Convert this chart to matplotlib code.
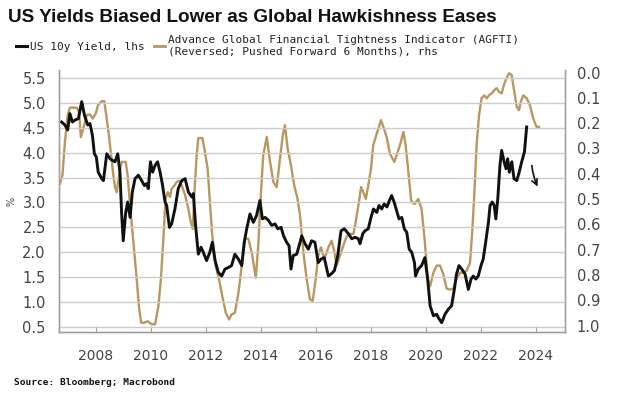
import matplotlib
matplotlib.use("Agg")
import matplotlib.pyplot as plt
from matplotlib.lines import Line2D

# ------------------------------
# DADOS
# ------------------------------
# US 10y yield, lhs (%)
yield_years = [
    2006.75, 2006.87, 2006.97, 2007.05, 2007.14, 2007.24, 2007.36, 2007.48, 2007.58, 2007.70,
    2007.78, 2007.87, 2007.94, 2008.01, 2008.08, 2008.21, 2008.27, 2008.39, 2008.51, 2008.59,
    2008.69, 2008.79, 2008.87, 2008.93, 2008.99, 2009.08, 2009.15, 2009.24, 2009.32, 2009.42,
    2009.54, 2009.66, 2009.76, 2009.84, 2009.90, 2009.98, 2010.06, 2010.15, 2010.24, 2010.33,
    2010.41, 2010.51, 2010.57, 2010.67, 2010.75, 2010.87, 2010.99, 2011.12, 2011.24, 2011.36,
    2011.48, 2011.54, 2011.62, 2011.72, 2011.82, 2011.90, 2012.02, 2012.14, 2012.23, 2012.33,
    2012.45, 2012.57, 2012.69, 2012.81, 2012.93, 2013.05, 2013.18, 2013.30, 2013.39, 2013.48,
    2013.60, 2013.72, 2013.84, 2013.96, 2014.05, 2014.15, 2014.27, 2014.39, 2014.51, 2014.61,
    2014.73, 2014.82, 2014.93, 2015.02, 2015.09, 2015.17, 2015.30, 2015.42, 2015.48, 2015.60,
    2015.72, 2015.84, 2015.96, 2016.08, 2016.18, 2016.30, 2016.45, 2016.55, 2016.67, 2016.79,
    2016.91, 2017.03, 2017.18, 2017.30, 2017.42, 2017.54, 2017.60, 2017.70, 2017.78, 2017.90,
    2018.00, 2018.09, 2018.21, 2018.29, 2018.39, 2018.48, 2018.58, 2018.67, 2018.75, 2018.84,
    2018.93, 2019.02, 2019.12, 2019.21, 2019.30, 2019.39, 2019.48, 2019.58, 2019.62, 2019.72,
    2019.84, 2019.96, 2020.06, 2020.15, 2020.27, 2020.39, 2020.45, 2020.57, 2020.69, 2020.81,
    2020.93, 2021.03, 2021.11, 2021.20, 2021.30, 2021.42, 2021.54, 2021.64, 2021.72, 2021.81,
    2021.90, 2022.00, 2022.08, 2022.17, 2022.27, 2022.33, 2022.41, 2022.48, 2022.54, 2022.61,
    2022.69, 2022.75, 2022.84, 2022.91, 2022.97, 2023.03, 2023.12, 2023.20, 2023.30, 2023.39,
    2023.48, 2023.58, 2023.66,
]
yield_values = [
    4.62, 4.56, 4.46, 4.79, 4.62, 4.66, 4.69, 5.03, 4.76, 4.56,
    4.59, 4.35, 3.98, 3.92, 3.61, 3.48, 3.44, 3.98, 3.88, 3.85,
    3.82, 3.98, 3.61, 2.80, 2.23, 2.80, 3.01, 2.70, 3.21, 3.48,
    3.55, 3.44, 3.34, 3.38, 3.28, 3.82, 3.61, 3.75, 3.82, 3.61,
    3.38, 3.01, 2.94, 2.50, 2.57, 2.87, 3.28, 3.44, 3.48, 3.21,
    3.11, 3.18, 2.54, 1.96, 2.10, 2.00, 1.83, 2.00, 2.20, 1.83,
    1.59, 1.52, 1.66, 1.69, 1.73, 1.96, 1.86, 1.73, 2.20, 2.47,
    2.77, 2.60, 2.74, 3.04, 2.67, 2.70, 2.64, 2.54, 2.57, 2.47,
    2.50, 2.33, 2.20, 2.13, 1.66, 1.93, 1.96, 2.20, 2.33, 2.17,
    2.06, 2.23, 2.20, 1.79, 1.86, 1.89, 1.52, 1.56, 1.63, 1.93,
    2.43, 2.47, 2.37, 2.27, 2.30, 2.27, 2.17, 2.37, 2.43, 2.47,
    2.70, 2.87, 2.80, 2.94, 2.87, 2.97, 2.91, 3.04, 3.14, 3.01,
    2.84, 2.67, 2.70, 2.47, 2.40, 2.06, 2.00, 1.79, 1.52, 1.66,
    1.73, 1.89, 1.46, 0.92, 0.72, 0.75, 0.68, 0.58, 0.75, 0.85,
    0.92, 1.25, 1.56, 1.73, 1.66, 1.56, 1.25, 1.46, 1.52, 1.46,
    1.52, 1.73, 1.86, 2.20, 2.60, 2.94, 3.01, 2.94, 2.67, 3.07,
    3.75, 4.05, 3.82, 3.68, 3.88, 3.61, 3.82, 3.48, 3.44, 3.61,
    3.82, 4.02, 4.52,
]

# AGFTI (reversed, pushed forward 6 months), rhs
agfti_years = [
    2006.69, 2006.78, 2006.87, 2006.97, 2007.05, 2007.18, 2007.30, 2007.38, 2007.45, 2007.54,
    2007.66, 2007.78, 2007.88, 2007.99, 2008.08, 2008.21, 2008.30, 2008.39, 2008.47, 2008.55,
    2008.63, 2008.69, 2008.75, 2008.84, 2008.93, 2009.08, 2009.15, 2009.24, 2009.36, 2009.48,
    2009.56, 2009.64, 2009.76, 2009.88, 2010.02, 2010.15, 2010.27, 2010.36, 2010.45, 2010.53,
    2010.61, 2010.69, 2010.75, 2010.85, 2010.93, 2011.02, 2011.12, 2011.24, 2011.36, 2011.45,
    2011.52, 2011.58, 2011.66, 2011.72, 2011.87, 2011.96, 2012.06, 2012.15, 2012.23, 2012.35,
    2012.47, 2012.59, 2012.72, 2012.84, 2012.93, 2013.05, 2013.18, 2013.30, 2013.42, 2013.54,
    2013.66, 2013.81, 2013.90, 2014.00, 2014.08, 2014.21, 2014.33, 2014.45, 2014.57, 2014.69,
    2014.79, 2014.87, 2014.97, 2015.09, 2015.21, 2015.33, 2015.42, 2015.54, 2015.66, 2015.78,
    2015.88, 2015.99, 2016.08, 2016.18, 2016.30, 2016.45, 2016.57, 2016.67, 2016.75, 2016.87,
    2016.99, 2017.12, 2017.24, 2017.36, 2017.44, 2017.54, 2017.64, 2017.72, 2017.81, 2017.90,
    2018.00, 2018.08, 2018.21, 2018.29, 2018.36, 2018.45, 2018.57, 2018.69, 2018.85, 2018.93,
    2019.05, 2019.18, 2019.26, 2019.36, 2019.46, 2019.58, 2019.72, 2019.84, 2019.96, 2020.06,
    2020.15, 2020.27, 2020.39, 2020.51, 2020.63, 2020.75, 2020.88, 2021.00, 2021.11, 2021.24,
    2021.36, 2021.48, 2021.60, 2021.68, 2021.76, 2021.84, 2021.93, 2022.02, 2022.12, 2022.21,
    2022.29, 2022.39, 2022.48, 2022.57, 2022.65, 2022.75, 2022.85, 2022.93, 2023.02, 2023.11,
    2023.21, 2023.30, 2023.38, 2023.45, 2023.54, 2023.66, 2023.78, 2023.90, 2024.02, 2024.11,
]
agfti_values = [
    0.439, 0.406, 0.274, 0.168, 0.139, 0.139, 0.139, 0.155, 0.255, 0.221,
    0.168, 0.166, 0.182, 0.162, 0.127, 0.113, 0.113, 0.182, 0.249, 0.327,
    0.406, 0.453, 0.473, 0.406, 0.353, 0.353, 0.406, 0.526, 0.671, 0.816,
    0.923, 0.989, 0.989, 0.983, 0.995, 0.995, 0.923, 0.816, 0.657, 0.500,
    0.473, 0.492, 0.459, 0.447, 0.433, 0.428, 0.447, 0.485, 0.540, 0.593,
    0.618, 0.473, 0.327, 0.259, 0.259, 0.314, 0.380, 0.526, 0.646, 0.763,
    0.816, 0.883, 0.950, 0.976, 0.956, 0.950, 0.870, 0.763, 0.657, 0.657,
    0.710, 0.811, 0.685, 0.473, 0.327, 0.255, 0.353, 0.433, 0.453, 0.341,
    0.249, 0.208, 0.302, 0.367, 0.447, 0.500, 0.565, 0.710, 0.816, 0.897,
    0.903, 0.816, 0.724, 0.691, 0.738, 0.691, 0.665, 0.710, 0.763, 0.724,
    0.685, 0.646, 0.638, 0.638, 0.593, 0.526, 0.453, 0.473, 0.500, 0.447,
    0.380, 0.288, 0.241, 0.215, 0.188, 0.215, 0.255, 0.322, 0.353, 0.327,
    0.288, 0.235, 0.288, 0.394, 0.506, 0.520, 0.500, 0.540, 0.671, 0.816,
    0.844, 0.791, 0.763, 0.763, 0.797, 0.854, 0.858, 0.854, 0.816, 0.791,
    0.791, 0.783, 0.752, 0.632, 0.473, 0.288, 0.168, 0.102, 0.090, 0.102,
    0.090, 0.082, 0.070, 0.062, 0.076, 0.082, 0.043, 0.023, 0.003, 0.008,
    0.076, 0.135, 0.149, 0.115, 0.090, 0.102, 0.129, 0.182, 0.215, 0.215,
]

x_ticks = [2008, 2010, 2012, 2014, 2016, 2018, 2020, 2022, 2024]
left_ticks = [0.5, 1.0, 1.5, 2.0, 2.5, 3.0, 3.5, 4.0, 4.5, 5.0, 5.5]
right_ticks = [0.0, 0.1, 0.2, 0.3, 0.4, 0.5, 0.6, 0.7, 0.8, 0.9, 1.0]

title = "US Yields Biased Lower as Global Hawkishness Eases"
label_yield = "US 10y Yield, lhs"
label_agfti = "Advance Global Financial Tightness Indicator (AGFTI)\n(Reversed; Pushed Forward 6 Months), rhs"
source = "Source: Bloomberg; Macrobond"

# seta desenhada a mao (posicao em coordenadas de dados, eixo esquerdo)
arrow_start = (2023.84, 3.80)
arrow_end = (2024.10, 3.27)

black = "#111111"
gold = "#B9975F"
grid_c = "#CCCCCC"
spine_c = "#A0A0A0"
tick_c = "#444444"

# ------------------------------
# FIGURA
# ------------------------------
fig = plt.figure(figsize=(6.2, 3.96), dpi=100)
pos = [0.0952, 0.1616, 0.8161, 0.6616]
ax1 = fig.add_axes(pos)           # eixo esquerdo, grade e linha preta
ax2 = ax1.twinx()                 # eixo direito (AGFTI), desenhado por baixo

ax1.set_zorder(2)
ax2.set_zorder(1)
ax1.patch.set_visible(False)

ax1.set_xlim(2006.655, 2025.055)
ax1.set_ylim(0.393, 5.667)
ax2.set_ylim(1.0257, -0.0099)

ax1.set_xticks(x_ticks)
ax1.set_xticklabels([str(t) for t in x_ticks])
ax1.set_yticks(left_ticks)
ax1.set_yticklabels([f"{t:.1f}" for t in left_ticks])
ax2.set_yticks(right_ticks)
ax2.set_yticklabels([f"{t:.1f}" for t in right_ticks])

ax2.plot(agfti_years, agfti_values, color=gold, lw=1.7, solid_joinstyle="round")
ax1.plot(yield_years, yield_values, color=black, lw=2.1, solid_joinstyle="round")

for ax in (ax1, ax2):
    ax.spines["top"].set_visible(False)
    for s in ("left", "right", "bottom"):
        ax.spines[s].set_color(spine_c)
        ax.spines[s].set_linewidth(1.0)

ax1.tick_params(axis="y", left=False, pad=6, labelsize=10.5, labelcolor=tick_c)
ax2.tick_params(axis="y", right=False, pad=5, labelsize=10.5, labelcolor=tick_c)
ax1.tick_params(axis="x", direction="in", length=4, color=spine_c, pad=12,
                labelsize=10, labelcolor=tick_c)

# grade horizontal (eixo esquerdo)
ax1.yaxis.grid(True, color=grid_c, linewidth=1.0)
ax1.set_axisbelow(True)

ax1.set_ylabel("%", fontsize=7, color=tick_c, labelpad=4)

ax1.annotate("", xy=arrow_end, xytext=arrow_start,
             arrowprops=dict(arrowstyle="->", color=black, lw=1.2,
                             connectionstyle="arc3,rad=0.1"))

# ------------------------------
# TEXTOS
# ------------------------------
fig.text(0.013, 0.955, title, fontsize=13.6, fontweight="bold",
         family="Liberation Sans", va="center", ha="left", color="#111111")

handles = [Line2D([], [], color=black, lw=2.2), Line2D([], [], color=gold, lw=2.0)]
fig.legend(handles, [label_yield, label_agfti], loc="upper left",
           bbox_to_anchor=(0.018, 0.922), ncol=2, frameon=False,
           prop={"family": "DejaVu Sans Mono", "size": 8},
           handlelength=1.0, handletextpad=0.3, columnspacing=0.8,
           borderaxespad=0, labelcolor="#222222")

fig.text(0.022, 0.035, source, fontsize=6.8, fontweight="bold",
         family="DejaVu Sans Mono", va="center", ha="left", color="#111111")

fig.savefig("out.png", dpi=100, facecolor="white")
